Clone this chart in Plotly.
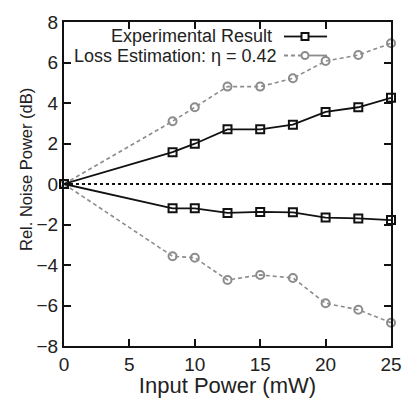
import plotly.graph_objects as go

# Data
input_power = [0, 8.3, 10, 12.5, 15, 17.5, 20, 22.5, 25]
exp_upper = [0, 1.57, 1.99, 2.70, 2.70, 2.93, 3.56, 3.79, 4.26]
exp_lower = [0, -1.20, -1.20, -1.43, -1.38, -1.40, -1.66, -1.70, -1.78]
loss_upper = [0, 3.10, 3.79, 4.81, 4.81, 5.22, 6.07, 6.37, 6.95]
loss_lower = [0, -3.57, -3.64, -4.74, -4.49, -4.64, -5.89, -6.21, -6.85]
baseline_x = [0, 25]
baseline_y = [0, 0]

x_ticks = [0, 5, 10, 15, 20, 25]
y_ticks = [-8, -6, -4, -2, 0, 2, 4, 6, 8]

FONT = "Liberation Sans, Arial, sans-serif"
BLACK = "#111111"
TXT = "#222222"
GRAY = "#8c8c8c"

fig = go.Figure()

fig.add_trace(go.Scatter(x=baseline_x, y=baseline_y, mode="lines",
                         line=dict(color=BLACK, width=2, dash="dot"),
                         showlegend=False, hoverinfo="skip"))

for ys in (loss_upper, loss_lower):
    fig.add_trace(go.Scatter(x=input_power, y=ys, mode="lines+markers",
                             line=dict(color=GRAY, width=1.6, dash="4px,3px"),
                             marker=dict(symbol="circle-open", size=8, color=GRAY,
                                         line=dict(width=2, color=GRAY)),
                             cliponaxis=False, showlegend=False))

for ys in (exp_upper, exp_lower):
    fig.add_trace(go.Scatter(x=input_power, y=ys, mode="lines+markers",
                             line=dict(color=BLACK, width=1.8),
                             marker=dict(symbol="square-open", size=8, color=BLACK,
                                         line=dict(width=2, color=BLACK)),
                             cliponaxis=False, showlegend=False))

# Legend (text right-aligned, sample on the right, as in the reference)
L_W, L_H = 406 - 64 - 15, 398 - 22 - 52
def px(xp):
    return (xp - 64) / L_W
def py(yp):
    return 1 - (yp - 22) / L_H

legend_rows = [("Experimental Result", 36.5, 273, BLACK, "solid", "rect"),
               ("Loss Estimation: \u03b7 = 0.42", 55.5, 278, GRAY, "4px,3px", "circle")]
for text, yp, xr, col, dash, shp in legend_rows:
    fig.add_annotation(text=text, xref="paper", yref="paper", x=px(xr), y=py(yp),
                       xanchor="right", yanchor="middle", showarrow=False, borderpad=0,
                       font=dict(family=FONT, size=18, color=TXT))
    fig.add_shape(type="line", xref="paper", yref="paper", x0=px(284), x1=px(305),
                  y0=py(yp), y1=py(yp), line=dict(color=col, width=1.8, dash=dash))
    fig.add_shape(type="line", xref="paper", yref="paper", x0=px(305), x1=px(327),
                  y0=py(yp), y1=py(yp), line=dict(color=col, width=1.8))
    fig.add_shape(type=shp, xref="paper", yref="paper", x0=px(301.5), x1=px(308.5),
                  y0=py(yp + 3.5), y1=py(yp - 3.5), fillcolor="white",
                  line=dict(color=col, width=2))

# y-axis title placed where the reference shows it (slightly above centre)
fig.add_annotation(text="Rel. Noise Power (dB)", xref="paper", yref="paper",
                   x=px(26), y=py(170), textangle=-90, showarrow=False,
                   xanchor="center", yanchor="middle",
                   font=dict(family=FONT, size=16.5, color=TXT))

axis_common = dict(showgrid=False, zeroline=False, showline=True, linecolor=BLACK,
                   linewidth=2, mirror="ticks", ticks="inside", ticklen=7,
                   tickwidth=1.5, tickcolor=BLACK, automargin=False,
                   tickfont=dict(family=FONT, size=19, color=TXT))

fig.update_xaxes(range=[0, 25], tickvals=x_ticks, title_text="Input Power (mW)",
                 title_standoff=0, title_font=dict(family=FONT, size=22, color=TXT),
                 **axis_common)
fig.update_yaxes(range=[-8, 8], tickvals=y_ticks, ticklabelstandoff=0, **axis_common)

fig.update_layout(width=406, height=398, margin=dict(l=64, r=15, t=22, b=52),
                  plot_bgcolor="white", paper_bgcolor="white",
                  font=dict(family=FONT))

fig.write_html("out.html", config={"displayModeBar": False},
               post_script="document.body.style.margin='0';document.body.style.overflow='hidden';")
